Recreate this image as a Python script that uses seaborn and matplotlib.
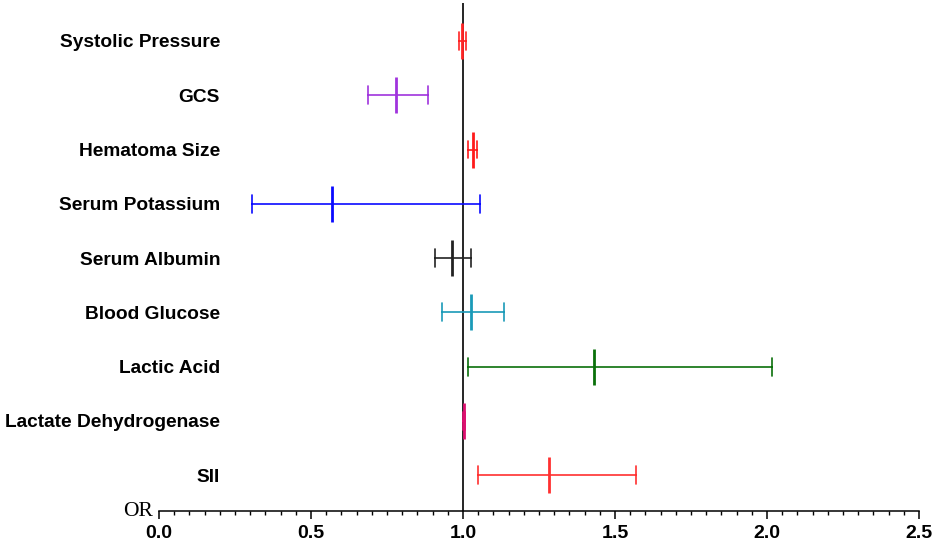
import matplotlib
matplotlib.use("Agg")
import matplotlib.pyplot as plt
from matplotlib.ticker import MultipleLocator
import seaborn as sns
import pandas as pd

variables = ["Systolic Pressure", "GCS", "Hematoma Size", "Serum Potassium",
             "Serum Albumin", "Blood Glucose", "Lactic Acid",
             "Lactate Dehydrogenase", "SII"]
odds_ratio = [0.997, 0.780, 1.032, 0.568, 0.965, 1.026, 1.430, 1.003, 1.283]
ci_lower = [0.987, 0.688, 1.015, 0.305, 0.908, 0.930, 1.016, 1.001, 1.049]
ci_upper = [1.009, 0.885, 1.046, 1.056, 1.025, 1.135, 2.017, 1.006, 1.569]
colors = ["#ff2424", "#a033dd", "#ff1a1a", "#0a0aff", "#222222",
          "#1a9ab8", "#0a700a", "#dd1070", "#ff3030"]
x_ticks = [0.0, 0.5, 1.0, 1.5, 2.0, 2.5]

rows = []
for v, o, lo, hi in zip(variables, odds_ratio, ci_lower, ci_upper):
    for val in (lo, o, hi):
        rows.append({"var": v, "value": val})
df = pd.DataFrame(rows)

sns.set_theme(style="white")
plt.rcParams["font.family"] = ["Liberation Sans", "DejaVu Sans"]

fig = plt.figure(figsize=(9.35, 5.45), dpi=100)
ax = fig.add_axes([159 / 935, 34 / 545, (919 - 159) / 935, (542 - 34) / 545])

sns.pointplot(data=df, x="value", y="var", hue="var", order=variables,
              hue_order=variables, palette=colors, estimator="median",
              errorbar=("pi", 100), markers="|", linestyle="none",
              capsize=0.33, err_kws={"linewidth": 1.2}, markersize=26,
              markeredgewidth=2.0, legend=False, ax=ax)

ax.axvline(1.0, color="black", linewidth=1.2, zorder=0)

ax.set_xlim(0, 2.5)
ax.set_ylim(8.66, -0.70)
ax.set_xticks(x_ticks)
ax.set_xticklabels([f"{t:.1f}" for t in x_ticks], fontweight="bold", fontsize=14)
ax.xaxis.set_minor_locator(MultipleLocator(0.05))
ax.tick_params(axis="x", which="major", direction="out", length=6.1, width=1.1,
               color="black", bottom=True, pad=4)
ax.tick_params(axis="x", which="minor", direction="out", length=3.2, width=1.0,
               color="black", bottom=True)
ax.tick_params(axis="y", length=0, pad=-44)
for lab in ax.get_yticklabels():
    lab.set_fontweight("bold")
    lab.set_fontsize(13.8)
    lab.set_color("black")
for lab in ax.get_xticklabels():
    lab.set_color("black")

ax.set_xlabel("")
ax.set_ylabel("")
for s in ["left", "top", "right"]:
    ax.spines[s].set_visible(False)
ax.spines["bottom"].set_color("black")
ax.spines["bottom"].set_linewidth(1.1)

fig.text(153 / 935, 1 - 516.5 / 545, "OR", family=["Liberation Serif", "DejaVu Serif"],
         fontsize=15.5, ha="right", va="baseline", color="black")

fig.savefig("out.png", dpi=100, facecolor="white")
